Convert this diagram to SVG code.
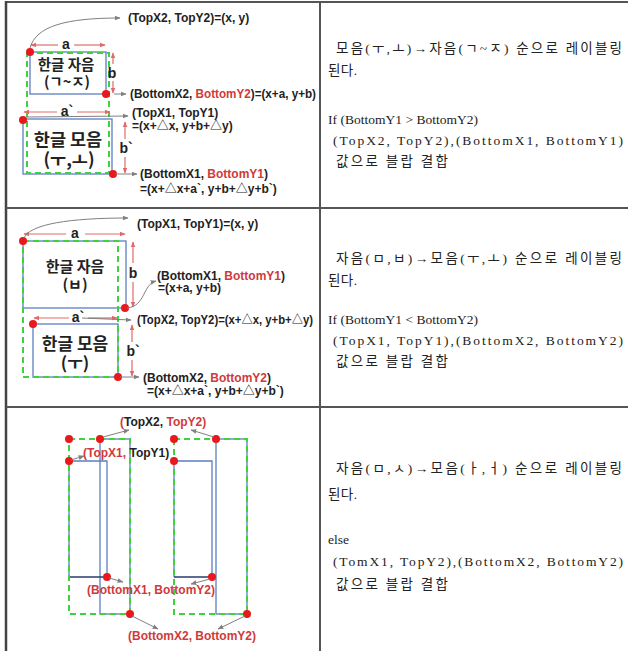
<svg xmlns="http://www.w3.org/2000/svg" width="628" height="651" viewBox="0 0 628 651">
<style>
.cell{fill:none;stroke:#555;stroke-width:2}
.box{fill:none;stroke:#5b7fbf;stroke-width:1.3}
.grn{fill:none;stroke:#3fd23f;stroke-width:2;stroke-dasharray:6 4}
.dot{fill:#e8191c}
.dim{stroke:#e06a6a;stroke-width:1.2;fill:none}
.lead{stroke:#808080;stroke-width:1;fill:none}
.lbl{font-family:"Liberation Sans","Noto Sans CJK KR",sans-serif;font-weight:bold;font-size:12px;fill:#222}
.red{fill:#d03a3a}
.dl{font-family:"Liberation Sans",sans-serif;font-weight:bold;font-size:14px;fill:#222;text-anchor:middle}
.kr{font-family:"Noto Sans CJK KR",sans-serif;font-weight:bold;fill:#222;text-anchor:middle}
.txt{font-family:"Liberation Serif","Noto Sans CJK KR",serif;font-size:13.5px;fill:#222}
</style>
<defs>
<marker id="ar" viewBox="0 0 10 10" refX="9" refY="5" markerWidth="5" markerHeight="5" orient="auto-start-reverse"><path d="M0,1 L10,5 L0,9 z" fill="#e06a6a"/></marker>
<marker id="ag" viewBox="0 0 10 10" refX="9" refY="5" markerWidth="6" markerHeight="6" orient="auto-start-reverse"><path d="M0,1 L10,5 L0,9 z" fill="#808080"/></marker>
</defs>

<g id="table">
<line class="cell" x1="5" y1="2" x2="628" y2="2"/>
<line x1="6" y1="1" x2="6" y2="651" stroke="#444" stroke-width="2.5"/>
<line class="cell" x1="320" y1="2" x2="320" y2="651"/>
<line class="cell" x1="6" y1="208" x2="628" y2="208"/>
<line class="cell" x1="6" y1="407" x2="628" y2="407"/>
</g>

<g id="panel1">
<rect class="box" x="30" y="52" width="76" height="42"/>
<rect class="box" x="23" y="119" width="89" height="55"/>
<rect class="grn" x="27" y="53" width="82" height="120"/>
<text class="kr" x="66" y="70" font-size="14.5">한글 자음</text>
<text class="kr" x="67" y="87" font-size="14.5">(ㄱ~ㅈ)</text>
<text class="kr" x="68" y="146" font-size="17.5">한글 모음</text>
<text class="kr" x="69" y="166" font-size="17.5">(ㅜ,ㅗ)</text>
<text class="dl" x="66" y="49">a</text>
<text class="dl" x="112" y="78">b</text>
<text class="dl" x="67" y="116">a`</text>
<text class="dl" x="126" y="153">b`</text>
<circle class="dot" cx="30" cy="52" r="4"/>
<circle class="dot" cx="106" cy="94" r="4"/>
<circle class="dot" cx="23" cy="120" r="4"/>
<circle class="dot" cx="113" cy="174" r="4"/>
<text class="lbl" x="128" y="22">(TopX2, TopY2)=(x, y)</text>
<text class="lbl" x="130" y="98" textLength="186" lengthAdjust="spacingAndGlyphs">(BottomX2, <tspan class="red">BottomY2</tspan>)=(x+a, y+b)</text>
<text class="lbl" x="132" y="117">(TopX1, TopY1)</text>
<text class="lbl" x="132" y="130">=(x+△x, y+b+△y)</text>
<text class="lbl" x="140" y="178">(BottomX1, <tspan class="red">BottomY1</tspan>)</text>
<text class="lbl" x="140" y="193">=(x+△x+a`, y+b+△y+b`)</text>
</g>

<g id="panel2">
<rect class="box" x="23" y="241" width="103" height="67"/>
<rect class="box" x="33" y="324" width="85" height="53"/>
<rect class="grn" x="23" y="241" width="95" height="136"/>
<text class="kr" x="75" y="272" font-size="15">한글 자음</text>
<text class="kr" x="75" y="290" font-size="15">(ㅂ)</text>
<text class="kr" x="75" y="350" font-size="17">한글 모음</text>
<text class="kr" x="75" y="369" font-size="17">(ㅜ)</text>
<text class="dl" x="75" y="238">a</text>
<text class="dl" x="133" y="278">b</text>
<text class="dl" x="78" y="322">a`</text>
<text class="dl" x="133" y="356">b`</text>
<circle class="dot" cx="23" cy="241" r="4"/>
<circle class="dot" cx="125" cy="308" r="4"/>
<circle class="dot" cx="33" cy="324" r="4"/>
<circle class="dot" cx="118" cy="377" r="4"/>
<text class="lbl" x="137" y="228">(TopX1, TopY1)=(x, y)</text>
<text class="lbl" x="157" y="280">(BottomX1, <tspan class="red">BottomY1</tspan>)</text>
<text class="lbl" x="158" y="292">=(x+a, y+b)</text>
<text class="lbl" x="137" y="324" textLength="176" lengthAdjust="spacingAndGlyphs">(TopX2, TopY2)=(x+△x, y+b+△y)</text>
<text class="lbl" x="143" y="382">(BottomX2, <tspan class="red">BottomY2</tspan>)</text>
<text class="lbl" x="147" y="395">=(x+△x+a`, y+b+△y+b`)</text>
</g>

<g id="panel3">
<rect class="box" x="100" y="439" width="30" height="175"/>
<path class="box" d="M69,577 V461 H107 V577"/>
<line x1="69" y1="577" x2="107" y2="577" stroke="#2a3a6a" stroke-width="1.3"/>
<rect class="grn" x="69" y="439" width="61" height="175"/>
<rect class="box" x="216" y="439" width="31" height="175"/>
<path class="box" d="M174,577 V461 H212 V577"/>
<line x1="174" y1="577" x2="212" y2="577" stroke="#2a3a6a" stroke-width="1.3"/>
<rect class="grn" x="174" y="439" width="73" height="175"/>
<circle class="dot" cx="69" cy="439" r="4"/>
<circle class="dot" cx="100" cy="439" r="4"/>
<circle class="dot" cx="69" cy="461" r="4"/>
<circle class="dot" cx="107" cy="577" r="4"/>
<circle class="dot" cx="130" cy="614" r="4"/>
<circle class="dot" cx="174" cy="439" r="4"/>
<circle class="dot" cx="216" cy="439" r="4"/>
<circle class="dot" cx="174" cy="461" r="4"/>
<circle class="dot" cx="212" cy="577" r="4"/>
<circle class="dot" cx="247" cy="614" r="4"/>
<text class="lbl" x="120" y="426"><tspan class="red">(</tspan>TopX2, <tspan class="red">TopY2)</tspan></text>
<text class="lbl" x="83" y="457"><tspan class="red">(TopX1,</tspan> TopY1)</text>
<text class="lbl red" x="87" y="594">(BottomX1, BottomY2)</text>
<text class="lbl red" x="128" y="640">(BottomX2, BottomY2)</text>
</g>

<g id="connectors">
<line class="dim" x1="31" y1="45" x2="58" y2="45" marker-start="url(#ar)"/>
<line class="dim" x1="74" y1="45" x2="105" y2="45" marker-end="url(#ar)"/>
<line class="dim" x1="113" y1="53" x2="113" y2="64" marker-start="url(#ar)"/>
<line class="dim" x1="113" y1="81" x2="113" y2="93" marker-end="url(#ar)"/>
<line class="dim" x1="24" y1="112" x2="57" y2="112" marker-start="url(#ar)"/>
<line class="dim" x1="77" y1="112" x2="110" y2="112" marker-end="url(#ar)"/>
<line class="dim" x1="125" y1="122" x2="125" y2="139" marker-start="url(#ar)"/>
<line class="dim" x1="125" y1="157" x2="125" y2="173" marker-end="url(#ar)"/>
<path class="lead" d="M30,48 C36,26 66,18 120,18" marker-end="url(#ag)"/>
<path class="lead" d="M114,94 L126,94" marker-end="url(#ag)"/>
<path class="lead" d="M26,117 L128,116" marker-end="url(#ag)"/>
<path class="lead" d="M115,174 L137,174" marker-end="url(#ag)"/>

<line class="dim" x1="24" y1="234" x2="66" y2="234" marker-start="url(#ar)"/>
<line class="dim" x1="85" y1="234" x2="125" y2="234" marker-end="url(#ar)"/>
<line class="dim" x1="133" y1="242" x2="133" y2="263" marker-start="url(#ar)"/>
<line class="dim" x1="133" y1="282" x2="133" y2="307" marker-end="url(#ar)"/>
<line class="dim" x1="34" y1="318" x2="69" y2="318" marker-start="url(#ar)"/>
<line class="dim" x1="88" y1="318" x2="117" y2="318" marker-end="url(#ar)"/>
<line class="dim" x1="132" y1="325" x2="132" y2="342" marker-start="url(#ar)"/>
<line class="dim" x1="132" y1="360" x2="132" y2="376" marker-end="url(#ar)"/>
<path class="lead" d="M24,238 C30,224 70,218 128,218" marker-end="url(#ag)"/>
<path class="lead" d="M127,308 C146,306 142,285 156,281" marker-end="url(#ag)"/>
<path class="lead" d="M82,318 L131,320" marker-end="url(#ag)"/>
<path class="lead" d="M120,377 L139,377" marker-end="url(#ag)"/>

<path class="lead" d="M103,437 L129,430" marker-end="url(#ag)"/>
<path class="lead" d="M214,437 L191,430" marker-end="url(#ag)"/>
<path class="lead" d="M71,460 L84,456" marker-end="url(#ag)"/>
<path class="lead" d="M109,578 L123,582" marker-end="url(#ag)"/>
<path class="lead" d="M210,579 L191,584" marker-end="url(#ag)"/>
<path class="lead" d="M132,616 L158,629" marker-end="url(#ag)"/>
<path class="lead" d="M245,616 L218,629" marker-end="url(#ag)"/>
</g>

<g id="text1">
<text class="txt" x="336" y="53" textLength="286" lengthAdjust="spacing">모음(ㅜ,ㅗ)→자음(ㄱ~ㅈ) 순으로 레이블링</text>
<text class="txt" x="328" y="75" textLength="29" lengthAdjust="spacing">된다.</text>
<text class="txt" x="328" y="124" textLength="150" lengthAdjust="spacing">If (BottomY1 &gt; BottomY2)</text>
<text class="txt" x="333" y="145" textLength="290" lengthAdjust="spacing">(TopX2, TopY2),(BottomX1, BottomY1)</text>
<text class="txt" x="336" y="166" textLength="112" lengthAdjust="spacing">값으로 블랍 결합</text>
</g>
<g id="text2">
<text class="txt" x="336" y="263" textLength="286" lengthAdjust="spacing">자음(ㅁ,ㅂ)→모음(ㅜ,ㅗ) 순으로 레이블링</text>
<text class="txt" x="328" y="285" textLength="29" lengthAdjust="spacing">된다.</text>
<text class="txt" x="328" y="324" textLength="150" lengthAdjust="spacing">If (BottomY1 &lt; BottomY2)</text>
<text class="txt" x="333" y="345" textLength="290" lengthAdjust="spacing">(TopX1, TopY1),(BottomX2, BottomY2)</text>
<text class="txt" x="336" y="366" textLength="112" lengthAdjust="spacing">값으로 블랍 결합</text>
</g>
<g id="text3">
<text class="txt" x="336" y="473" textLength="286" lengthAdjust="spacing">자음(ㅁ,ㅅ)→모음(ㅏ,ㅓ) 순으로 레이블링</text>
<text class="txt" x="328" y="499" textLength="29" lengthAdjust="spacing">된다.</text>
<text class="txt" x="328" y="544">else</text>
<text class="txt" x="333" y="566" textLength="290" lengthAdjust="spacing">(TomX1, TopY2),(BottomX2, BottomY2)</text>
<text class="txt" x="336" y="589" textLength="112" lengthAdjust="spacing">값으로 블랍 결합</text>
</g>
</svg>
